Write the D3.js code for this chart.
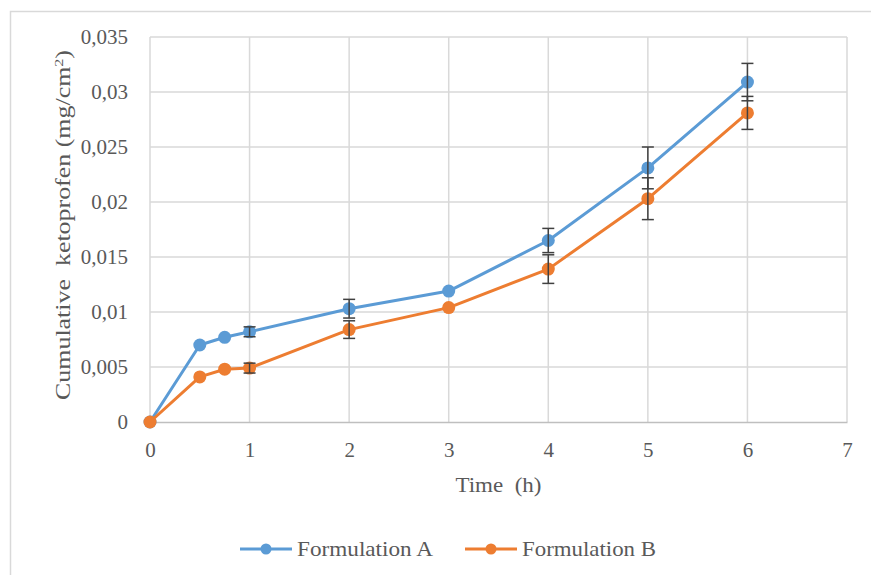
<!DOCTYPE html>
<html>
<head>
<meta charset="utf-8">
<script src="https://cdn.jsdelivr.net/npm/d3@7"></script>
<style>
  body { margin: 0; background: #fff; }
  text { font-family: "Liberation Serif", "Times New Roman", serif; fill: #595959; }
</style>
</head>
<body>
<div id="container"></div>
<script>
// data
let times = [0, 0.5, 0.75, 1, 2, 3, 4, 5, 6];
let formA = [0, 0.0070, 0.0077, 0.0082, 0.0103, 0.0119, 0.0165, 0.0231, 0.0309];
let errA  = [0, 0, 0, 0.00045, 0.00085, 0, 0.0011, 0.0019, 0.0017];
let formB = [0, 0.0041, 0.0048, 0.0049, 0.0084, 0.0104, 0.0139, 0.0203, 0.0281];
let errB  = [0, 0, 0, 0.00045, 0.0008, 0, 0.0013, 0.0019, 0.0015];
let xTicks = [0, 1, 2, 3, 4, 5, 6, 7];
let yTicks = [0, 0.005, 0.01, 0.015, 0.02, 0.025, 0.03, 0.035];

let series = [
    { name: "Formulation A", values: formA, errs: errA, color: "#5B9BD5" },
    { name: "Formulation B", values: formB, errs: errB, color: "#ED7D31" }
];

let width = 871, height = 575;
let margin = { left: 150, right: 24, top: 37, bottom: 153 };

let svg = d3.select('#container')
    .append('svg')
    .attr("width", width)
    .attr("height", height);

// outer chart frame
svg.append('rect')
    .attr('x', 10.5).attr('y', 11.5)
    .attr('width', 900).attr('height', 600)
    .attr('fill', 'none')
    .attr('stroke', '#d9d9d9')
    .attr('stroke-width', 1.5);

let x = d3.scaleLinear().domain([0, 7]).range([margin.left, width - margin.right]);
let y = d3.scaleLinear().domain([0, 0.035]).range([height - margin.bottom, margin.top]);

let locale = d3.formatLocale({ decimal: ",", thousands: ".", grouping: [3], currency: ["", ""] });
let fmt = v => v === 0 ? "0" : locale.format(".3~f")(v);

// gridlines
svg.append('g')
    .selectAll('line')
    .data(yTicks.slice(1))
    .enter()
    .append('line')
    .attr('x1', x(0)).attr('x2', x(7))
    .attr('y1', d => y(d)).attr('y2', d => y(d))
    .attr('stroke', '#d9d9d9')
    .attr('stroke-width', 1.5);

svg.append('g')
    .selectAll('line')
    .data(xTicks.slice(1))
    .enter()
    .append('line')
    .attr('x1', d => x(d)).attr('x2', d => x(d))
    .attr('y1', y(0)).attr('y2', y(0.035))
    .attr('stroke', '#d9d9d9')
    .attr('stroke-width', 1.5);

svg.append('line')
    .attr('x1', x(0)).attr('x2', x(0))
    .attr('y1', y(0)).attr('y2', y(0.035))
    .attr('stroke', '#d9d9d9').attr('stroke-width', 1.5);

let xAxis = svg.append('g')
    .attr('transform', `translate(0,${y(0)})`)
    .call(d3.axisBottom(x).tickValues(xTicks).tickSize(0).tickPadding(20).tickFormat(d3.format("d")));
xAxis.select('.domain').attr('stroke', '#bfbfbf').attr('stroke-width', 1.5);
xAxis.selectAll('text').style('font-size', '21px').attr('fill', '#595959')
    .style('font-family', '"Liberation Serif", serif');

let yAxis = svg.append('g')
    .attr('transform', `translate(${x(0)},0)`)
    .call(d3.axisLeft(y).tickValues(yTicks).tickSize(0).tickPadding(22).tickFormat(fmt));
yAxis.select('.domain').remove();
yAxis.selectAll('text').style('font-size', '21px').attr('fill', '#595959')
    .style('font-family', '"Liberation Serif", serif');

// axis titles
svg.append('text')
    .attr('x', (x(0) + x(7)) / 2)
    .attr('y', 492)
    .attr('text-anchor', 'middle')
    .style('font-size', '21px')
    .attr('xml:space', 'preserve')
    .attr('textLength', 86)
    .attr('lengthAdjust', 'spacingAndGlyphs')
    .text('Time  (h)');

let yt = svg.append('text')
    .attr('transform', `translate(70,225) rotate(-90)`)
    .attr('text-anchor', 'middle')
    .style('font-size', '21px')
    .attr('xml:space', 'preserve')
    .attr('textLength', 350)
    .attr('lengthAdjust', 'spacingAndGlyphs');
yt.append('tspan').text('Cumulative  ketoprofen (mg/cm');
yt.append('tspan').attr('baseline-shift', 'super').style('font-size', '13px').text('2');
yt.append('tspan').text(')');

let line = d3.line()
    .x((d, i) => x(times[i]))
    .y(d => y(d));

series.forEach(s => {
    let g = svg.append('g');
    g.append('path')
        .datum(s.values)
        .attr('d', line)
        .attr('fill', 'none')
        .attr('stroke', s.color)
        .attr('stroke-width', 3)
        .attr('stroke-linejoin', 'round');

    g.selectAll('circle')
        .data(s.values)
        .enter()
        .append('circle')
        .attr('cx', (d, i) => x(times[i]))
        .attr('cy', d => y(d))
        .attr('r', 6.5)
        .attr('fill', s.color);
});

// error bars drawn on top
series.forEach(s => {
    let eb = svg.append('g')
        .attr('stroke', '#404040')
        .attr('stroke-width', 1.5);
    let items = s.values.map((v, i) => ({ t: times[i], v: v, e: s.errs[i] })).filter(d => d.e > 0);
    eb.selectAll('.v').data(items).enter().append('line')
        .attr('x1', d => x(d.t)).attr('x2', d => x(d.t))
        .attr('y1', d => y(d.v - d.e)).attr('y2', d => y(d.v + d.e));
    eb.selectAll('.t').data(items).enter().append('line')
        .attr('x1', d => x(d.t) - 6).attr('x2', d => x(d.t) + 6)
        .attr('y1', d => y(d.v + d.e)).attr('y2', d => y(d.v + d.e));
    eb.selectAll('.b').data(items).enter().append('line')
        .attr('x1', d => x(d.t) - 6).attr('x2', d => x(d.t) + 6)
        .attr('y1', d => y(d.v - d.e)).attr('y2', d => y(d.v - d.e));
});

// legend
let legendX = [240, 465];
let legendLen = [136, 134];
let legend = svg.append('g')
    .selectAll('g')
    .data(series)
    .enter()
    .append('g')
    .attr('transform', (d, i) => `translate(${legendX[i]},549)`);
legend.append('line')
    .attr('x1', 0).attr('x2', 52)
    .attr('stroke', d => d.color)
    .attr('stroke-width', 3);
legend.append('circle')
    .attr('cx', 26).attr('r', 5.5)
    .attr('fill', d => d.color);
legend.append('text')
    .attr('x', 57).attr('dy', 7)
    .style('font-size', '21px')
    .attr('textLength', (d, i) => legendLen[i])
    .attr('lengthAdjust', 'spacingAndGlyphs')
    .text(d => d.name);
</script>
</body>
</html>
